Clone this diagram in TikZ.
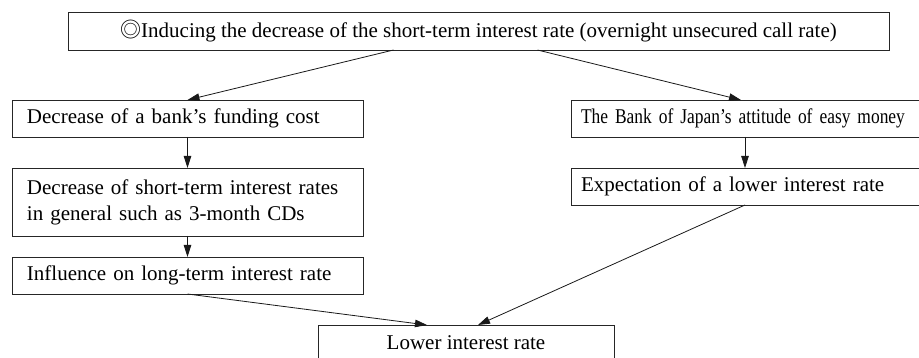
\documentclass[tikz,border=0pt]{standalone}
\usepackage{fontspec}
\setmainfont{Liberation Serif}
\newfontfamily\markfont{Noto Sans CJK JP}
\newfontfamily\narrowfont[FakeStretch=0.83]{Liberation Serif}
\usetikzlibrary{arrows.meta,calc}

\begin{document}
\begin{tikzpicture}[x=1pt,y=-1pt,
  font=\fontsize{21}{26}\selectfont,
  box/.style={draw=black!85, line width=0.9pt, anchor=north west,
              inner ysep=0pt, outer sep=0pt},
  leftbox/.style={box, align=left, inner xsep=15pt},
  rightbox/.style={box, align=left, inner xsep=10pt, text width=340pt,
                   minimum height=37pt},
  arr/.style={draw=black!90, line width=0.8pt,
              -{Triangle[length=12pt,width=7.5pt]}}]
  \useasboundingbox (0,0) rectangle (919,358);
  \clip (0,0) rectangle (919,358);

  % headline
  \node[box, minimum width=821pt, minimum height=38pt, align=center]
    (top) at (68,12)
    {{\markfont ◎}Inducing the decrease of the short-term interest rate (overnight unsecured call rate)};

  % left chain
  \node[leftbox, text width=321pt, minimum height=37pt] (A) at (12,100)
    {Decrease of a bank’s funding cost};
  \node[leftbox, text width=321pt, minimum height=68pt] (B) at (12,168)
    {Decrease of short-term interest rates\\in general such as 3-month CDs};
  \node[leftbox, text width=321pt, minimum height=37pt] (C) at (12,257)
    {Influence on long-term interest rate};

  % right chain
  \node[rightbox] (D) at (571,100)
    {\narrowfont The Bank of Japan’s attitude of easy money};
  \node[rightbox] (E) at (571,168) {Expectation of a lower interest rate};

  % result
  \node[box, align=center, minimum width=296pt, minimum height=36pt]
    (F) at (318,325) {Lower interest rate};

  % connectors
  \draw[arr] ([xshift=-85pt]top.south) -- (A.north);
  \draw[arr] ([xshift=59pt]top.south) -- ([xshift=170pt]D.north west);
  \draw[arr] (A.south) -- (B.north);
  \draw[arr] (B.south) -- (C.north);
  \draw[arr] ([xshift=174pt]D.south west) -- ([xshift=174pt]E.north west);
  \draw[arr] (C.south) -- ([xshift=-39pt]F.north);
  \draw[arr] ([xshift=174pt]E.south west) -- ([xshift=12pt]F.north);
\end{tikzpicture}
\end{document}
